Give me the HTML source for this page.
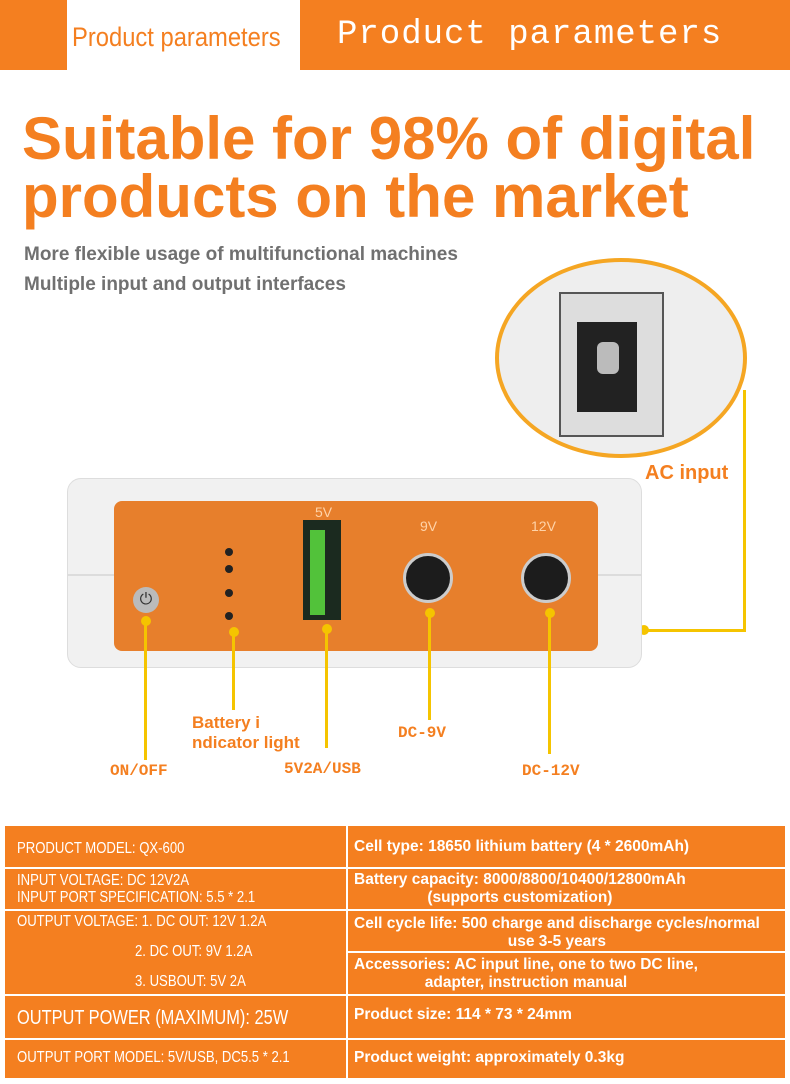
<!DOCTYPE html>
<html><head><meta charset="utf-8"><style>
*{margin:0;padding:0;box-sizing:border-box}
body{width:790px;height:1084px;background:#fff;position:relative;overflow:hidden;font-family:"Liberation Sans",sans-serif}
.a{position:absolute}
.t{position:absolute;color:#fff;font-size:15px;line-height:17px;transform:scaleX(0.82);transform-origin:0 0;white-space:nowrap}
.r{position:absolute;color:#fff;font-size:15.5px;line-height:18px;font-weight:bold;white-space:nowrap}
.lbl{position:absolute;color:#f47f20;font-weight:bold;font-size:16px;font-family:"Liberation Mono",monospace}
.ln{position:absolute;background:#f5c400;width:3px}
.dot{position:absolute;width:10px;height:10px;border-radius:50%;background:#f5c400}
</style></head><body>
<div class="a" style="left:0;top:0;width:790px;height:70px;background:#f47f20"></div>
<div class="a" style="left:67px;top:0;width:233px;height:70px;background:#fff"></div>
<div class="a" style="left:175px;top:70px;width:0;height:0;border-left:10px solid transparent;border-right:10px solid transparent;border-top:10px solid #fff"></div>
<div class="a" style="left:72px;top:22px;font-size:27px;color:#f47f20;transform:scaleX(0.88);transform-origin:0 0;white-space:nowrap">Product parameters</div>
<div class="a" style="left:337px;top:16px;font-size:34px;color:#fff;font-family:'Liberation Mono',monospace;letter-spacing:1px">Product parameters</div>
<div class="a" style="left:22px;top:110px;font-size:60px;line-height:58px;font-weight:bold;color:#f47f20">Suitable for 98% of digital<br>products on the market</div>
<div class="a" style="left:24px;top:240px;font-size:19px;line-height:30px;font-weight:bold;color:#707070">More flexible usage of multifunctional machines<br>Multiple input and output interfaces</div>
<div class="a" style="left:495px;top:258px;width:252px;height:200px;border-radius:50%;border:4px solid #f5a623;background:#eee;overflow:hidden">
<div class="a" style="left:60px;top:30px;width:105px;height:145px;background:#ddd;border:2px solid #555"></div>
<div class="a" style="left:78px;top:60px;width:60px;height:90px;background:#222"></div>
<div class="a" style="left:98px;top:80px;width:22px;height:32px;background:#bbb;border-radius:6px"></div>
</div>
<div class="a" style="left:645px;top:462px;font-size:20px;font-weight:bold;color:#f47f20">AC input</div>
<div class="ln" style="left:743px;top:390px;height:242px"></div>
<div class="a" style="left:645px;top:629px;width:101px;height:3px;background:#f5c400"></div>
<div class="dot" style="left:639px;top:625px"></div>
<div class="a" style="left:67px;top:478px;width:575px;height:190px;background:#f1f1f1;border-radius:14px;border:1px solid #ddd"></div>
<div class="a" style="left:67px;top:574px;width:575px;height:2px;background:#dcdcdc"></div>
<div class="a" style="left:114px;top:501px;width:484px;height:150px;background:#e77f2c;border-radius:8px"></div>
<div class="a" style="left:133px;top:587px;width:26px;height:26px;border-radius:50%;background:#bbb;color:#333;text-align:center;font-size:16px;line-height:26px">⏻</div>
<div class="a" style="left:225px;top:548px;width:8px;height:8px;border-radius:50%;background:#222;box-shadow:0 17px 0 #222,0 41px 0 #222,0 64px 0 #222"></div>
<div class="a" style="left:303px;top:520px;width:38px;height:100px;background:#1b2a1f"></div>
<div class="a" style="left:310px;top:530px;width:15px;height:85px;background:#52c23a"></div>
<div class="a" style="left:315px;top:504px;color:#ffd3a8;font-size:14px">5V</div>
<div class="a" style="left:420px;top:518px;color:#ffd3a8;font-size:14px">9V</div>
<div class="a" style="left:531px;top:518px;color:#ffd3a8;font-size:14px">12V</div>
<div class="a" style="left:403px;top:553px;width:50px;height:50px;border-radius:50%;background:#1c1c1c;border:3px solid #ccc"></div>
<div class="a" style="left:521px;top:553px;width:50px;height:50px;border-radius:50%;background:#1c1c1c;border:3px solid #ccc"></div>
<div class="dot" style="left:141px;top:616px"></div><div class="ln" style="left:144px;top:620px;height:140px"></div>
<div class="dot" style="left:229px;top:627px"></div><div class="ln" style="left:232px;top:630px;height:80px"></div>
<div class="dot" style="left:322px;top:624px"></div><div class="ln" style="left:325px;top:628px;height:120px"></div>
<div class="dot" style="left:425px;top:608px"></div><div class="ln" style="left:428px;top:612px;height:108px"></div>
<div class="dot" style="left:545px;top:608px"></div><div class="ln" style="left:548px;top:612px;height:142px"></div>
<div class="lbl" style="left:110px;top:762px">ON/OFF</div>
<div class="a" style="left:192px;top:713px;font-size:17px;line-height:20px;font-weight:bold;color:#f47f20">Battery i<br>ndicator light</div>
<div class="lbl" style="left:284px;top:760px">5V2A/USB</div>
<div class="lbl" style="left:398px;top:724px">DC-9V</div>
<div class="lbl" style="left:522px;top:762px">DC-12V</div>
<div class="a" style="left:5px;top:826px;width:780px;height:252px;background:#f47f20"></div>
<div class="a" style="left:346px;top:826px;width:2px;height:252px;background:#fff"></div>
<div class="a" style="left:5px;top:867px;width:780px;height:2px;background:#fff"></div>
<div class="a" style="left:5px;top:909px;width:780px;height:2px;background:#fff"></div>
<div class="a" style="left:347px;top:951px;width:438px;height:2px;background:#fff"></div>
<div class="a" style="left:5px;top:994px;width:780px;height:2px;background:#fff"></div>
<div class="a" style="left:5px;top:1038px;width:780px;height:2px;background:#fff"></div>
<div class="t" style="left:17px;top:840px;font-size:16px">PRODUCT MODEL: QX-600</div>
<div class="t" style="left:17px;top:872px;font-size:16px">INPUT VOLTAGE: DC 12V2A<br>INPUT PORT SPECIFICATION: 5.5 * 2.1</div>
<div class="t" style="left:17px;top:913px;font-size:16px">OUTPUT VOLTAGE: 1. DC OUT: 12V 1.2A</div>
<div class="t" style="left:135px;top:943px;font-size:16px">2. DC OUT: 9V 1.2A</div>
<div class="t" style="left:135px;top:973px;font-size:16px">3. USBOUT: 5V 2A</div>
<div class="t" style="left:17px;top:1007px;font-size:20px;line-height:22px">OUTPUT POWER (MAXIMUM): 25W</div>
<div class="t" style="left:17px;top:1049px;font-size:16px">OUTPUT PORT MODEL: 5V/USB, DC5.5 * 2.1</div>
<div class="r" style="left:354px;top:838px">Cell type: 18650 lithium battery (4 * 2600mAh)</div>
<div class="r" style="left:354px;top:871px;text-align:center">Battery capacity: 8000/8800/10400/12800mAh<br>(supports customization)</div>
<div class="r" style="left:354px;top:915px;text-align:center">Cell cycle life: 500 charge and discharge cycles/normal<br>use 3-5 years</div>
<div class="r" style="left:354px;top:956px;text-align:center">Accessories: AC input line, one to two DC line,<br>adapter, instruction manual</div>
<div class="r" style="left:354px;top:1006px">Product size: 114 * 73 * 24mm</div>
<div class="r" style="left:354px;top:1049px">Product weight: approximately 0.3kg</div>
</body></html>
